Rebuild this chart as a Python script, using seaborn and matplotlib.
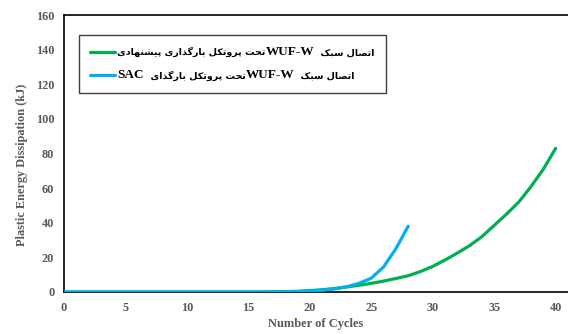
import re
import numpy as np
import pandas as pd
import matplotlib
matplotlib.use("Agg")
import matplotlib.pyplot as plt
from matplotlib.offsetbox import (TextArea, HPacker, VPacker, DrawingArea,
                                  AnchoredOffsetbox)
from matplotlib.lines import Line2D
import seaborn as sns

# ---------------- data ----------------
cycles_green = list(range(0, 41))
energy_green = [0, 0, 0, 0, 0, 0, 0, 0, 0, 0,
                0, 0, 0, 0, 0, 0, 0.05, 0.1, 0.2, 0.4,
                0.8, 1.3, 2.0, 2.9, 3.9, 5.0, 6.3, 7.8, 9.4, 11.8,
                14.8, 18.5, 22.5, 26.8, 32.0, 38.5, 45.0, 52.0, 61.0, 71.0,
                83.0]
cycles_blue = list(range(0, 29))
energy_blue = [0, 0, 0, 0, 0, 0, 0, 0, 0, 0,
               0, 0, 0, 0, 0, 0, 0.05, 0.1, 0.1, 0.2,
               0.5, 1.0, 1.8, 3.0, 5.0, 8.0, 14.5, 25.0, 38.0]

label_green = "اتصال سبک  WUF-Wتحت پروتکل بارگذاری پیشنهادی"
label_blue = "اتصال سبک  WUF-Wتحت پروتکل بارگذای  SAC"

x_ticks = [0, 5, 10, 15, 20, 25, 30, 35, 40]
y_ticks = [0, 20, 40, 60, 80, 100, 120, 140, 160]
x_label = "Number of Cycles"
y_label = "Plastic Energy Dissipation (kJ)"

# ------------- simple Persian shaping (for matplotlib display) -------------
FORMS = {
    'ا': ('\uFE8D', '\uFE8E', None, None),
    'ب': ('\uFE8F', '\uFE90', '\uFE91', '\uFE92'),
    'ت': ('\uFE95', '\uFE96', '\uFE97', '\uFE98'),
    'ح': ('\uFEA1', '\uFEA2', '\uFEA3', '\uFEA4'),
    'د': ('\uFEA9', '\uFEAA', None, None),
    'ذ': ('\uFEAB', '\uFEAC', None, None),
    'ر': ('\uFEAD', '\uFEAE', None, None),
    'س': ('\uFEB1', '\uFEB2', '\uFEB3', '\uFEB4'),
    'ش': ('\uFEB5', '\uFEB6', '\uFEB7', '\uFEB8'),
    'ص': ('\uFEB9', '\uFEBA', '\uFEBB', '\uFEBC'),
    'ل': ('\uFEDD', '\uFEDE', '\uFEDF', '\uFEE0'),
    'ن': ('\uFEE5', '\uFEE6', '\uFEE7', '\uFEE8'),
    'ه': ('\uFEE9', '\uFEEA', '\uFEEB', '\uFEEC'),
    'و': ('\uFEED', '\uFEEE', None, None),
    'پ': ('\uFB56', '\uFB57', '\uFB58', '\uFB59'),
    'ک': ('\uFB8E', '\uFB8F', '\uFB90', '\uFB91'),
    'گ': ('\uFB92', '\uFB93', '\uFB94', '\uFB95'),
    'ی': ('\uFBFC', '\uFBFD', '\uFBFE', '\uFBFF'),
}


def _dual(c):
    return c in FORMS and FORMS[c][2] is not None


def shape_run(s):
    out = []
    for i, c in enumerate(s):
        if c not in FORMS:
            out.append(c)
            continue
        prev = s[i - 1] if i > 0 else ''
        nxt = s[i + 1] if i + 1 < len(s) else ''
        cp = _dual(prev)
        cn = _dual(c) and nxt in FORMS
        iso, fin, ini, med = FORMS[c]
        if cp and cn:
            out.append(med)
        elif cp:
            out.append(fin)
        elif cn:
            out.append(ini)
        else:
            out.append(iso)
    return ''.join(out)


def visual_tokens(s):
    """Return list of (text, is_latin) in left-to-right display order."""
    tokens = re.findall(r'[A-Za-z\-]+|[^A-Za-z\-]+', s)
    res = []
    for t in reversed(tokens):
        if re.match(r'[A-Za-z\-]', t):
            res.append((t, True))
        else:
            res.append((shape_run(t)[::-1], False))
    return res


# ---------------- plot ----------------
sns.set_theme(style="white")
plt.rcParams['font.family'] = ['Liberation Serif', 'DejaVu Sans']

df_g = pd.DataFrame({"cycles": cycles_green, "energy": energy_green})
df_b = pd.DataFrame({"cycles": cycles_blue, "energy": energy_blue})

fig = plt.figure(figsize=(5.68, 3.34), dpi=100)
ax = fig.add_axes([64 / 568, 42 / 334, 504 / 568, 277 / 334])

green = "#00B050"
blue = "#00B0F0"
sns.lineplot(data=df_g, x="cycles", y="energy", ax=ax, color=green,
             linewidth=2.3, zorder=2, legend=False)
sns.lineplot(data=df_b, x="cycles", y="energy", ax=ax, color=blue,
             linewidth=2.3, zorder=3, legend=False)

ax.set_xlim(0, 41)
ax.set_ylim(0, 160)
ax.set_xticks(x_ticks)
ax.set_yticks(y_ticks)
gray = "#595959"
ax.tick_params(axis='both', direction='inout', length=6, width=1,
               color='black', labelcolor=gray, labelsize=8.8, pad=4)
for lab in ax.get_xticklabels() + ax.get_yticklabels():
    lab.set_fontweight('bold')
    lab.set_family('Liberation Serif')

ax.set_xlabel(x_label, fontsize=9, fontweight='bold', color=gray,
              family='Liberation Serif', labelpad=3)
ax.set_ylabel(y_label, fontsize=8.8, fontweight='bold', color=gray,
              family='Liberation Serif')
ax.yaxis.set_label_coords(-0.072, 0.46)

for side in ['left', 'bottom', 'top']:
    ax.spines[side].set_color('black')
    ax.spines[side].set_linewidth(1.2)
ax.spines['right'].set_visible(False)

# ---------------- legend (mixed font sizes) ----------------
arab_prop = dict(family=['DejaVu Sans'], fontweight='bold', fontsize=6.8,
                 color='black')
latin_prop = dict(family=['Liberation Serif'], fontweight='bold',
                  fontsize=9.5, color='black')


def legend_row(color, label):
    da = DrawingArea(17.5, 6, 0, 0)
    da.add_artist(Line2D([0, 17.5], [3, 3], color=color, linewidth=2.3))
    texts = [TextArea(txt, textprops=latin_prop if latin else arab_prop)
             for txt, latin in visual_tokens(label)]
    text_row = HPacker(children=texts, align="baseline", pad=0, sep=0)
    return HPacker(children=[da, text_row], align="center", pad=0, sep=2)


rows = VPacker(children=[legend_row(green, label_green),
                         legend_row(blue, label_blue)],
               align="left", pad=0, sep=8)
box = AnchoredOffsetbox(loc='upper left', child=rows, pad=0.82, borderpad=0,
                        frameon=True, bbox_to_anchor=(0.0298, 0.928),
                        bbox_transform=ax.transAxes, prop=dict(size=10))
box.patch.set_edgecolor('#404040')
box.patch.set_linewidth(1.0)
box.patch.set_boxstyle("square", pad=0)
ax.add_artist(box)

fig.savefig("out.png", dpi=100)
